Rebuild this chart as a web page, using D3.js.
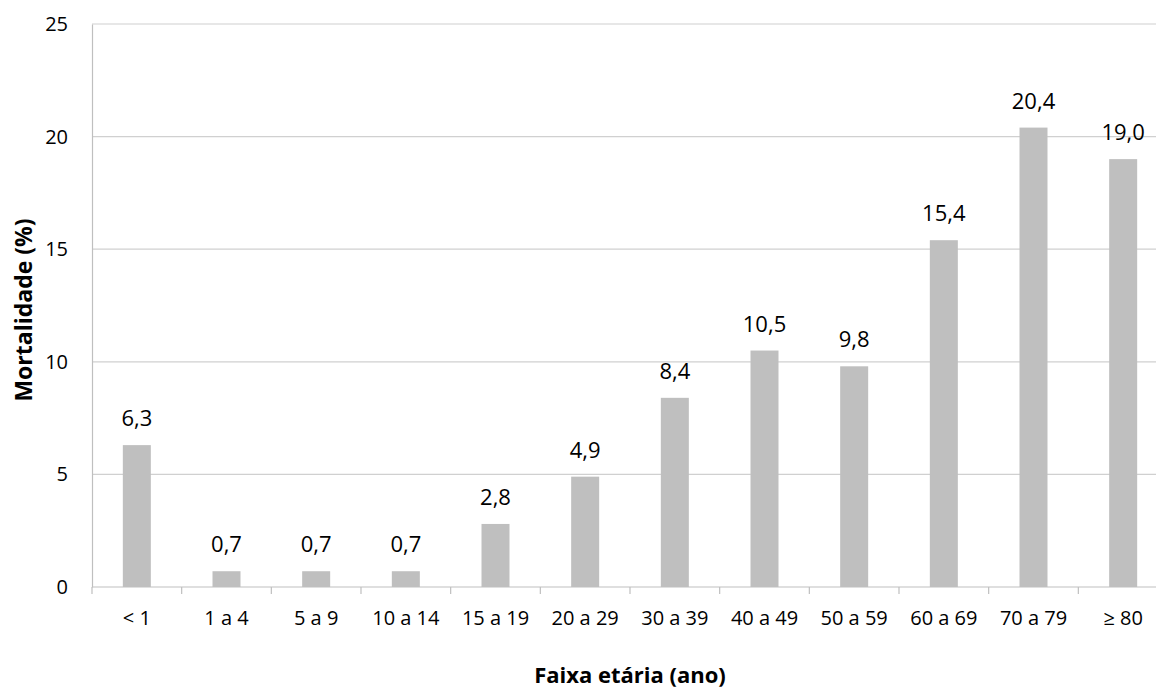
<!DOCTYPE html>
<html>
<head>
<meta charset="utf-8">
<script src="https://cdn.jsdelivr.net/npm/d3@7"></script>
<style>
  html, body { margin: 0; padding: 0; background: #fff; overflow: hidden; }
  svg { display: block; font-family: "Open Sans", sans-serif; }
</style>
</head>
<body>
<svg id="chart" width="1156" height="688"></svg>
<script>
// Mortalidade por faixa etária
const categories = ["< 1", "1 a 4", "5 a 9", "10 a 14", "15 a 19", "20 a 29", "30 a 39", "40 a 49", "50 a 59", "60 a 69", "70 a 79", "≥ 80"];
const mortalidade = [6.3, 0.7, 0.7, 0.7, 2.8, 4.9, 8.4, 10.5, 9.8, 15.4, 20.4, 19.0];
const yTicks = [0, 5, 10, 15, 20, 25];

const svg = d3.select("#chart");
const plotLeft = 92, plotTop = 24, plotBottom = 587;
const plotWidth = 1076;

const x = d3.scaleBand().domain(categories).range([plotLeft, plotLeft + plotWidth]).padding(0);
const y = d3.scaleLinear().domain([0, 25]).range([plotBottom, plotTop]);

const axisColor = "#bfbfbf";
const gridColor = "#d0d0d0";

// horizontal gridlines
svg.append("g")
  .selectAll("line")
  .data(yTicks.filter(d => d > 0))
  .join("line")
  .attr("x1", plotLeft).attr("x2", plotLeft + plotWidth)
  .attr("y1", d => y(d)).attr("y2", d => y(d))
  .attr("stroke", gridColor).attr("stroke-width", 1.2);

// y axis
const yAxis = svg.append("g")
  .attr("transform", `translate(${plotLeft},0)`)
  .call(d3.axisLeft(y).tickValues(yTicks).tickSize(0).tickPadding(24).tickFormat(d3.format("d")));
yAxis.select(".domain").attr("stroke", axisColor).attr("stroke-width", 1.2);
yAxis.selectAll("text").attr("font-size", 20).attr("fill", "#000").attr("font-family", "Open Sans");

// bars
const barWidth = 28;
svg.append("g")
  .selectAll("rect")
  .data(mortalidade)
  .join("rect")
  .attr("x", (d, i) => x(categories[i]) + x.bandwidth() / 2 - barWidth / 2)
  .attr("y", d => y(d))
  .attr("width", barWidth)
  .attr("height", d => y(0) - y(d))
  .attr("fill", "#bfbfbf");

// x axis with ticks on band boundaries
const xAxisG = svg.append("g").attr("transform", `translate(0,${plotBottom})`);
xAxisG.append("line")
  .attr("x1", plotLeft).attr("x2", plotLeft + plotWidth)
  .attr("stroke", axisColor).attr("stroke-width", 1.2);
xAxisG.selectAll("line.tick")
  .data(categories.concat([null]))
  .join("line")
  .attr("class", "tick")
  .attr("x1", (d, i) => plotLeft + i * x.step())
  .attr("x2", (d, i) => plotLeft + i * x.step())
  .attr("y1", 0).attr("y2", 7)
  .attr("stroke", axisColor).attr("stroke-width", 1.2);
xAxisG.selectAll("text")
  .data(categories)
  .join("text")
  .attr("x", d => x(d) + x.bandwidth() / 2)
  .attr("y", 38)
  .attr("text-anchor", "middle")
  .attr("font-size", 20)
  .attr("fill", "#000")
  .text(d => d);

// value labels
svg.append("g")
  .selectAll("text")
  .data(mortalidade)
  .join("text")
  .attr("x", (d, i) => x(categories[i]) + x.bandwidth() / 2)
  .attr("y", d => y(d) - 19)
  .attr("text-anchor", "middle")
  .attr("font-size", 22)
  .attr("fill", "#000")
  .text(d => d3.format(".1f")(d).replace(".", ","));

// axis titles
svg.append("text")
  .attr("x", plotLeft + plotWidth / 2)
  .attr("y", 683)
  .attr("text-anchor", "middle")
  .attr("font-size", 22)
  .attr("font-weight", "bold")
  .text("Faixa etária (ano)");

svg.append("text")
  .attr("transform", `translate(32,310) rotate(-90)`)
  .attr("text-anchor", "middle")
  .attr("font-size", 23)
  .attr("font-weight", "bold")
  .text("Mortalidade (%)");
</script>
</body>
</html>
